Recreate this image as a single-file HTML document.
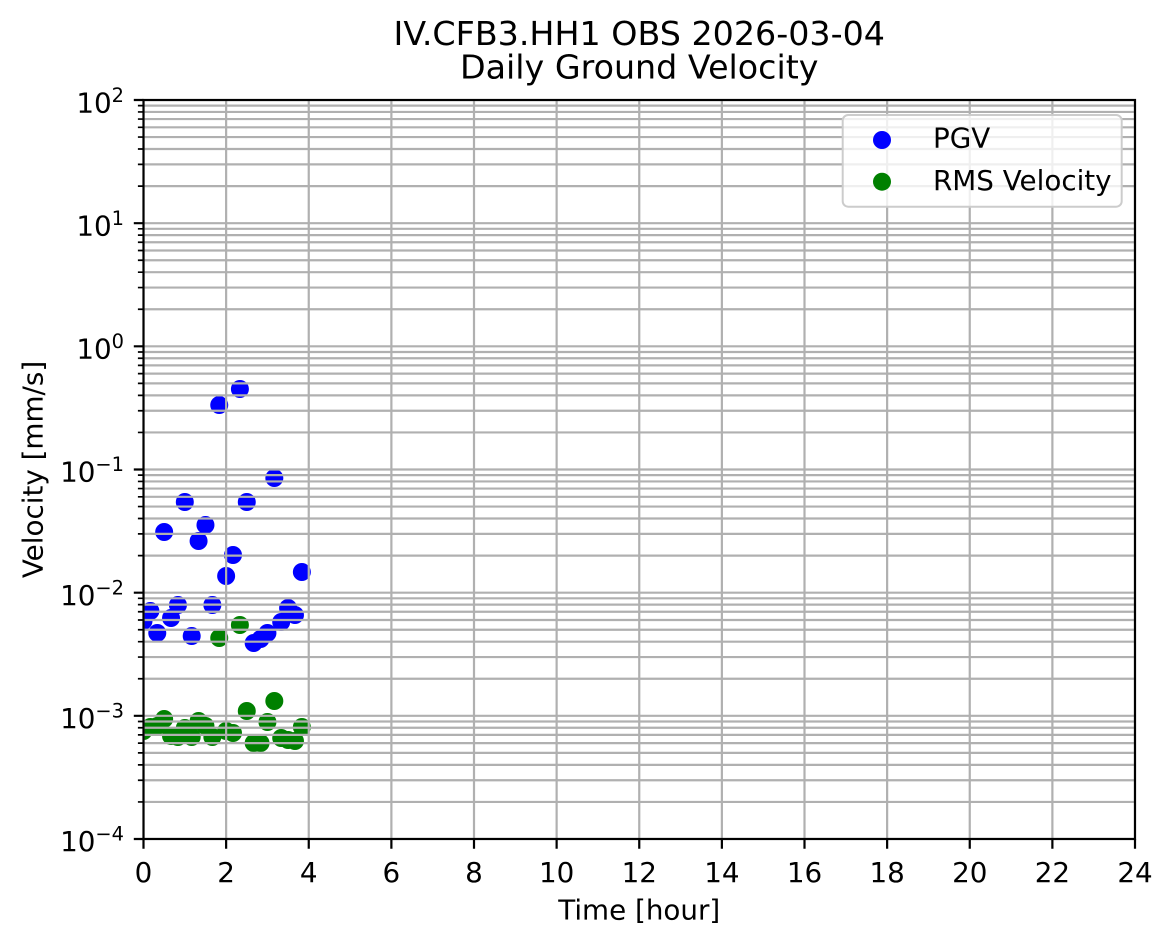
<!DOCTYPE html>
<html>
<head>
<meta charset="utf-8">
<style>
html,body{margin:0;padding:0;background:#fff;}
svg{display:block;}
text{font-family:"DejaVu Sans","Liberation Sans",sans-serif;fill:#000;}
</style>
</head>
<body>
<svg width="1173" height="946" viewBox="0 0 1173 946" xmlns="http://www.w3.org/2000/svg">
<defs>
<clipPath id="ax"><rect x="143.5" y="100" width="991.5" height="739"/></clipPath>
</defs>
<rect width="1173" height="946" fill="#fff"/>

<g clip-path="url(#ax)">
<g fill="#0000ff">
<circle cx="143.5" cy="621" r="9"/>
<circle cx="150.39" cy="611" r="9"/>
<circle cx="157.27" cy="633" r="9"/>
<circle cx="164.16" cy="532" r="9"/>
<circle cx="171.04" cy="618" r="9"/>
<circle cx="177.93" cy="605" r="9"/>
<circle cx="184.81" cy="502" r="9"/>
<circle cx="191.70" cy="636" r="9"/>
<circle cx="198.58" cy="541" r="9"/>
<circle cx="205.47" cy="525" r="9"/>
<circle cx="212.35" cy="605" r="9"/>
<circle cx="219.24" cy="405" r="9"/>
<circle cx="226.13" cy="576" r="9"/>
<circle cx="233.01" cy="555" r="9"/>
<circle cx="239.90" cy="389" r="9"/>
<circle cx="246.78" cy="502" r="9"/>
<circle cx="253.67" cy="643" r="9"/>
<circle cx="260.55" cy="639" r="9"/>
<circle cx="267.44" cy="633" r="9"/>
<circle cx="274.32" cy="478" r="9"/>
<circle cx="281.21" cy="622" r="9"/>
<circle cx="288.09" cy="608" r="9"/>
<circle cx="294.98" cy="615" r="9"/>
<circle cx="301.86" cy="572" r="9"/>
</g>
<g fill="#008000">
<circle cx="143.5" cy="731" r="9"/>
<circle cx="150.39" cy="727" r="9"/>
<circle cx="157.27" cy="726" r="9"/>
<circle cx="164.16" cy="719" r="9"/>
<circle cx="171.04" cy="736" r="9"/>
<circle cx="177.93" cy="737" r="9"/>
<circle cx="184.81" cy="728" r="9"/>
<circle cx="191.70" cy="737" r="9"/>
<circle cx="198.58" cy="721" r="9"/>
<circle cx="205.47" cy="726" r="9"/>
<circle cx="212.35" cy="737" r="9"/>
<circle cx="219.24" cy="638" r="9"/>
<circle cx="226.13" cy="731" r="9"/>
<circle cx="233.01" cy="733" r="9"/>
<circle cx="239.90" cy="625" r="9"/>
<circle cx="246.78" cy="711" r="9"/>
<circle cx="253.67" cy="743" r="9"/>
<circle cx="260.55" cy="743" r="9"/>
<circle cx="267.44" cy="722" r="9"/>
<circle cx="274.32" cy="701" r="9"/>
<circle cx="281.21" cy="738" r="9"/>
<circle cx="288.09" cy="740" r="9"/>
<circle cx="294.98" cy="741" r="9"/>
<circle cx="301.86" cy="727" r="9"/>
</g>

<path fill="none" stroke="#b0b0b0" stroke-width="2.2" d="
M143.5 100V839 M226.13 100V839 M308.75 100V839 M391.38 100V839 M474 100V839 M556.63 100V839 M639.25 100V839 M721.88 100V839 M804.5 100V839 M887.13 100V839 M969.75 100V839 M1052.38 100V839 M1135 100V839
M143.5 100H1135 M143.5 105.63H1135 M143.5 111.93H1135 M143.5 119.08H1135 M143.5 127.32H1135 M143.5 137.08H1135 M143.5 149.01H1135 M143.5 164.40H1135 M143.5 186.09H1135
M143.5 223.17H1135 M143.5 228.80H1135 M143.5 235.10H1135 M143.5 242.25H1135 M143.5 250.49H1135 M143.5 260.24H1135 M143.5 272.18H1135 M143.5 287.57H1135 M143.5 309.26H1135
M143.5 346.33H1135 M143.5 351.97H1135 M143.5 358.27H1135 M143.5 365.41H1135 M143.5 373.66H1135 M143.5 383.41H1135 M143.5 395.35H1135 M143.5 410.73H1135 M143.5 432.42H1135
M143.5 469.5H1135 M143.5 475.14H1135 M143.5 481.43H1135 M143.5 488.58H1135 M143.5 496.82H1135 M143.5 506.58H1135 M143.5 518.51H1135 M143.5 533.90H1135 M143.5 555.59H1135
M143.5 592.67H1135 M143.5 598.30H1135 M143.5 604.60H1135 M143.5 611.75H1135 M143.5 619.99H1135 M143.5 629.74H1135 M143.5 641.68H1135 M143.5 657.07H1135 M143.5 678.76H1135
M143.5 715.83H1135 M143.5 721.47H1135 M143.5 727.77H1135 M143.5 734.91H1135 M143.5 743.16H1135 M143.5 752.91H1135 M143.5 764.85H1135 M143.5 780.23H1135 M143.5 801.92H1135
M143.5 839H1135"/>
</g>

<path fill="none" stroke="#000" stroke-width="2.2" d="
M133.8 100H143.5 M133.8 223.17H143.5 M133.8 346.33H143.5 M133.8 469.5H143.5 M133.8 592.67H143.5 M133.8 715.83H143.5 M133.8 839H143.5
M143.5 839V848.7 M226.13 839V848.7 M308.75 839V848.7 M391.38 839V848.7 M474 839V848.7 M556.63 839V848.7 M639.25 839V848.7 M721.88 839V848.7 M804.5 839V848.7 M887.13 839V848.7 M969.75 839V848.7 M1052.38 839V848.7 M1135 839V848.7"/>

<path fill="none" stroke="#000" stroke-width="1.7" d="
M137.9 105.63H143.5 M137.9 111.93H143.5 M137.9 119.08H143.5 M137.9 127.32H143.5 M137.9 137.08H143.5 M137.9 149.01H143.5 M137.9 164.40H143.5 M137.9 186.09H143.5
M137.9 228.80H143.5 M137.9 235.10H143.5 M137.9 242.25H143.5 M137.9 250.49H143.5 M137.9 260.24H143.5 M137.9 272.18H143.5 M137.9 287.57H143.5 M137.9 309.26H143.5
M137.9 351.97H143.5 M137.9 358.27H143.5 M137.9 365.41H143.5 M137.9 373.66H143.5 M137.9 383.41H143.5 M137.9 395.35H143.5 M137.9 410.73H143.5 M137.9 432.42H143.5
M137.9 475.14H143.5 M137.9 481.43H143.5 M137.9 488.58H143.5 M137.9 496.82H143.5 M137.9 506.58H143.5 M137.9 518.51H143.5 M137.9 533.90H143.5 M137.9 555.59H143.5
M137.9 598.30H143.5 M137.9 604.60H143.5 M137.9 611.75H143.5 M137.9 619.99H143.5 M137.9 629.74H143.5 M137.9 641.68H143.5 M137.9 657.07H143.5 M137.9 678.76H143.5
M137.9 721.47H143.5 M137.9 727.77H143.5 M137.9 734.91H143.5 M137.9 743.16H143.5 M137.9 752.91H143.5 M137.9 764.85H143.5 M137.9 780.23H143.5 M137.9 801.92H143.5"/>

<rect x="143.5" y="100" width="991.5" height="739" fill="none" stroke="#000" stroke-width="2.2"/>

<g font-size="27.78" text-anchor="middle">
<text x="143.5" y="882">0</text>
<text x="226.13" y="882">2</text>
<text x="308.75" y="882">4</text>
<text x="391.38" y="882">6</text>
<text x="474" y="882">8</text>
<text x="556.63" y="882">10</text>
<text x="639.25" y="882">12</text>
<text x="721.88" y="882">14</text>
<text x="804.5" y="882">16</text>
<text x="887.13" y="882">18</text>
<text x="969.75" y="882">20</text>
<text x="1052.38" y="882">22</text>
<text x="1135" y="882">24</text>
</g>

<g font-size="27.78" text-anchor="end">
<text x="124" y="112.3">10<tspan dy="-10.5" font-size="19.4">2</tspan></text>
<text x="124" y="235.4">10<tspan dy="-10.5" font-size="19.4">1</tspan></text>
<text x="124" y="358.5">10<tspan dy="-10.5" font-size="19.4">0</tspan></text>
<text x="124" y="481.7">10<tspan dy="-10.5" font-size="19.4">−1</tspan></text>
<text x="124" y="604.9">10<tspan dy="-10.5" font-size="19.4">−2</tspan></text>
<text x="124" y="728">10<tspan dy="-10.5" font-size="19.4">−3</tspan></text>
<text x="124" y="851.2">10<tspan dy="-10.5" font-size="19.4">−4</tspan></text>
</g>

<text x="639.25" y="919.3" font-size="27.78" text-anchor="middle">Time [hour]</text>
<text transform="translate(42.5,469.5) rotate(-90)" font-size="27.78" text-anchor="middle">Velocity [mm/s]</text>

<text x="639.25" y="45" font-size="33.3" text-anchor="middle">IV.CFB3.HH1 OBS 2026-03-04</text>
<text x="639.25" y="78.5" font-size="33.3" text-anchor="middle">Daily Ground Velocity</text>

<rect x="842.7" y="115" width="279" height="91.7" rx="5.5" ry="5.5" fill="#fff" fill-opacity="0.8" stroke="#cccccc" stroke-width="2"/>
<circle cx="882" cy="140" r="9" fill="#0000ff"/>
<circle cx="882" cy="181.7" r="9" fill="#008000"/>
<text x="933" y="147.7" font-size="27.78">PGV</text>
<text x="933" y="190" font-size="27.78">RMS Velocity</text>
</svg>
</body>
</html>
